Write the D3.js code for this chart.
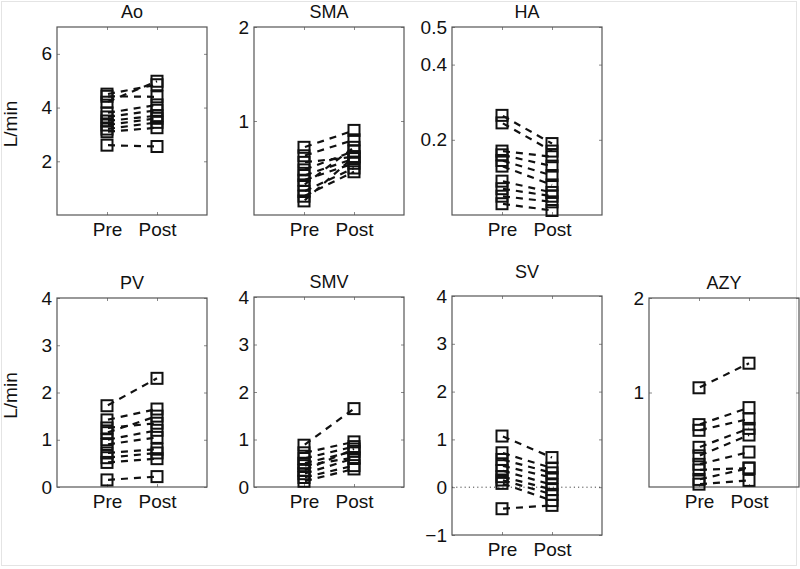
<html>

<head>
  <title>Pre / Post flow</title>
  <style>
    body { margin: 0; background: #fff; }
    text { font-family: "Liberation Sans", Arial, sans-serif; fill: #111; }
  </style>
</head>

<body>
  <script src="https://d3js.org/d3.v7.min.js"></script>
  <script>
    // x categories
    var phases = ["Pre", "Post"];

    // flow values, one entry per subject (L/min)
    var aoPre = [4.5, 4.42, 4.2, 3.8, 3.65, 3.5, 3.35, 3.2, 3.1, 2.6];
    var aoPost = [4.85, 4.4, 4.98, 4.1, 3.9, 3.7, 3.6, 3.45, 3.25, 2.55];

    var smaPre = [0.72, 0.63, 0.56, 0.48, 0.42, 0.37, 0.32, 0.25, 0.2, 0.15];
    var smaPost = [0.9, 0.8, 0.62, 0.68, 0.6, 0.55, 0.72, 0.5, 0.46, 0.62];

    var haPre = [0.265, 0.245, 0.17, 0.16, 0.145, 0.13, 0.09, 0.07, 0.05, 0.03];
    var haPost = [0.19, 0.17, 0.155, 0.13, 0.105, 0.08, 0.06, 0.05, 0.035, 0.012];

    var pvPre = [1.72, 1.42, 1.25, 1.15, 1.0, 0.9, 0.72, 0.62, 0.52, 0.15];
    var pvPost = [2.3, 1.65, 1.35, 1.5, 1.2, 1.05, 0.8, 0.72, 0.6, 0.22];

    var smvPre = [0.88, 0.72, 0.6, 0.5, 0.45, 0.35, 0.28, 0.2, 0.12];
    var smvPost = [1.65, 0.95, 0.85, 0.75, 0.62, 0.8, 0.6, 0.45, 0.38];

    var svPre = [1.07, 0.72, 0.58, 0.45, 0.35, 0.22, 0.15, 0.08, -0.45];
    var svPost = [0.62, 0.4, 0.3, 0.2, 0.05, -0.05, -0.15, -0.28, -0.38];

    var azyPre = [1.05, 0.66, 0.6, 0.42, 0.33, 0.24, 0.18, 0.08, 0.03];
    var azyPost = [1.31, 0.84, 0.72, 0.62, 0.55, 0.37, 0.2, 0.2, 0.07];

    // axis ranges and tick labels
    var aoTicks = [2, 4, 6], smaTicks = [1, 2], haTicks = [0.2, 0.4, 0.5];
    var pvTicks = [0, 1, 2, 3, 4], smvTicks = [0, 1, 2, 3, 4];
    var svTicks = [-1, 0, 1, 2, 3, 4], azyTicks = [1, 2];

    var panels = [
      { name: "Ao", pre: aoPre, post: aoPost, dom: [0, 7], ticks: aoTicks, x: 57, y: 27, h: 188, ylab: true },
      { name: "SMA", pre: smaPre, post: smaPost, dom: [0, 2], ticks: smaTicks, x: 254, y: 27, h: 188 },
      { name: "HA", pre: haPre, post: haPost, dom: [0, 0.5], ticks: haTicks, x: 452, y: 27, h: 188 },
      { name: "PV", pre: pvPre, post: pvPost, dom: [0, 4], ticks: pvTicks, x: 57, y: 298, h: 189, ylab: true },
      { name: "SMV", pre: smvPre, post: smvPost, dom: [0, 4], ticks: smvTicks, x: 254, y: 297, h: 190 },
      { name: "SV", pre: svPre, post: svPost, dom: [-1, 4], ticks: svTicks, x: 452, y: 296, h: 239, zero: true, tdy: 18 },
      { name: "AZY", pre: azyPre, post: azyPost, dom: [0, 2], ticks: azyTicks, x: 649, y: 298, h: 189 }
    ];

    var pw = 150;

    var svg = d3.select("body")
      .append("svg")
      .attr("width", 800)
      .attr("height", 569);

    svg.append("rect")
      .attr("x", 1.5).attr("y", 1.5)
      .attr("width", 795).attr("height", 564)
      .attr("fill", "none")
      .attr("stroke", "#e4e4e4");

    panels.forEach(function (p) {
      var g = svg.append("g")
        .attr("transform", "translate(" + p.x + "," + p.y + ")");

      var x = d3.scaleLinear().domain([0, 3]).range([0, pw]);
      var y = d3.scaleLinear().domain(p.dom).range([p.h, 0]);

      // y axis (left labels, inward ticks on both sides)
      var yAxis = d3.axisLeft(y).tickValues(p.ticks).tickSize(-3).tickPadding(5)
        .tickFormat(function (d) { return d < 0 ? "\u2212" + Math.abs(d) : d; });
      var ya = g.append("g").call(yAxis);
      var yr = g.append("g").attr("transform", "translate(" + pw + ",0)")
        .call(d3.axisRight(y).tickValues(p.ticks).tickSize(-3).tickFormat(""));

      var xAxis = d3.axisBottom(x).tickValues([1, 2]).tickSize(-3).tickPadding(8)
        .tickFormat(function (d) { return phases[d - 1]; });
      var xa = g.append("g").attr("transform", "translate(0," + p.h + ")").call(xAxis);
      var xt = g.append("g").call(d3.axisTop(x).tickValues([1, 2]).tickSize(-3).tickFormat(""));

      [ya, yr, xa, xt].forEach(function (a) {
        a.select(".domain").remove();
        a.selectAll(".tick line").attr("stroke", "#888");
        a.selectAll("text").style("font-size", "19px").attr("fill", "#111")
          .style("font-family", "'Liberation Sans', Arial, sans-serif");
      });

      g.append("rect")
        .attr("width", pw).attr("height", p.h)
        .attr("fill", "none")
        .attr("stroke", "#555")
        .attr("stroke-width", 1.2);

      if (p.zero) {
        g.append("line")
          .attr("x1", 0).attr("x2", pw)
          .attr("y1", y(0)).attr("y2", y(0))
          .attr("stroke", "#444")
          .attr("stroke-dasharray", "1.2,3");
      }

      var pairs = p.pre.map(function (v, i) { return [v, p.post[i]]; });

      g.selectAll(".pair")
        .data(pairs)
        .enter()
        .append("line")
        .attr("class", "pair")
        .attr("x1", x(1)).attr("x2", x(2))
        .attr("y1", function (d) { return y(d[0]); })
        .attr("y2", function (d) { return y(d[1]); })
        .attr("stroke", "#111")
        .attr("stroke-width", 2.2)
        .attr("stroke-dasharray", "7,6")
        .attr("stroke-dashoffset", 12);

      var pts = [];
      pairs.forEach(function (d) { pts.push([1, d[0]]); pts.push([2, d[1]]); });

      g.selectAll(".mk")
        .data(pts)
        .enter()
        .append("rect")
        .attr("class", "mk")
        .attr("x", function (d) { return x(d[0]) - 5.5; })
        .attr("y", function (d) { return y(d[1]) - 5.5; })
        .attr("width", 11).attr("height", 11)
        .attr("fill", "none")
        .attr("stroke", "#111")
        .attr("stroke-width", 2);

      g.append("text")
        .attr("x", pw / 2)
        .attr("y", -(p.tdy || 9))
        .attr("text-anchor", "middle")
        .style("font-size", "18px")
        .text(p.name);

      if (p.ylab) {
        g.append("text")
          .attr("transform", "translate(" + (-40) + "," + (p.h / 2 + 3) + ") rotate(-90)")
          .attr("text-anchor", "middle")
          .style("font-size", "19px")
          .text("L/min");
      }
    });
  </script>
</body>

</html>
